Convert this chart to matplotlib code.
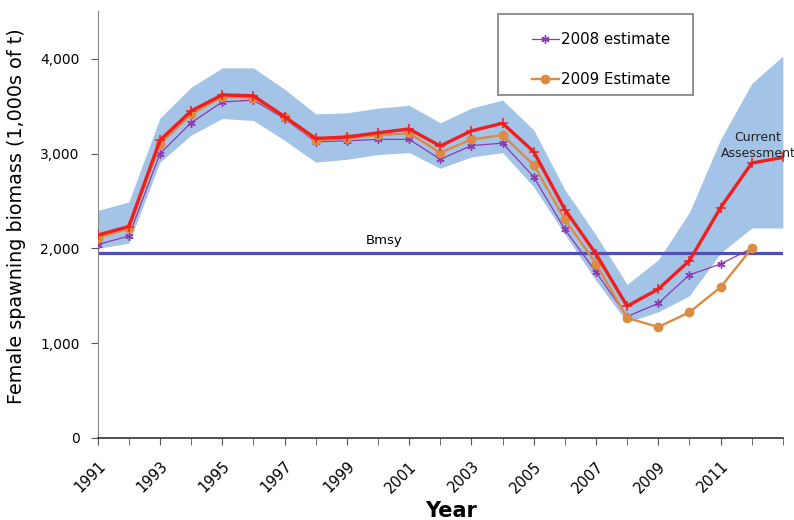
import matplotlib.pyplot as plt
from matplotlib.patches import Rectangle

# years on the x axis (2013 only carries the current assessment tail)
years = list(range(1991, 2014))
years_old = list(range(1991, 2013))

# current assessment (thick red) and its confidence band, 1000s of t
current = [2140, 2230, 3140, 3450, 3620, 3610, 3390, 3160, 3175, 3220, 3260, 3080, 3240, 3320,
           3020, 2410, 1940, 1390, 1570, 1870, 2430, 2900, 2960]
band_hi = [2400, 2490, 3375, 3700, 3905, 3905, 3680, 3420, 3430, 3480, 3510, 3325, 3480, 3565,
           3250, 2620, 2140, 1620, 1880, 2380, 3150, 3740, 4030]
band_lo = [2000, 2055, 2910, 3195, 3370, 3350, 3140, 2910, 2940, 2990, 3010, 2845, 2965, 3010,
           2650, 2150, 1660, 1220, 1330, 1500, 1950, 2215, 2215]

est_2008 = [2040, 2130, 3000, 3325, 3545, 3565, 3370, 3125, 3135, 3150, 3150, 2940, 3085, 3110,
            2755, 2200, 1750, 1280, 1420, 1720, 1835, 2000]
est_2009 = [2110, 2210, 3100, 3415, 3600, 3590, 3385, 3140, 3160, 3195, 3215, 3010, 3150, 3195,
            2880, 2305, 1840, 1265, 1170, 1325, 1590, 2000]

bmsy = 1955
label_years = list(range(1991, 2012, 2))

fig = plt.figure(figsize=(7.94, 5.20), dpi=100)
ax = fig.add_axes([0.123, 0.158, 0.863, 0.821])

ax.fill_between(years, band_lo, band_hi, color="#a3c4e6", linewidth=0, zorder=1)
ax.axhline(bmsy, color="#4f4fb4", linewidth=2.3, zorder=2)
ax.plot(years, current, color="#f01e1e", linewidth=2.4, marker="+", markersize=7,
        markeredgewidth=1.1, zorder=5)
ax.plot(years_old, est_2009, color="#dc8c42", linewidth=1.7, marker="o", markersize=6,
        label="2009 Estimate", zorder=4)
ax.plot(years_old, est_2008, color="#8b3ab0", linewidth=0.9, marker=(6, 2, 0), markersize=6,
        label="2008 estimate", zorder=3)

ax.text(2000.2, bmsy + 60, "Bmsy", ha="center", va="bottom", fontsize=9.5)
ax.text(2012.2, 2930, "Current\nAssessment", ha="center", va="bottom", fontsize=9,
        color="#222222", linespacing=1.3, clip_on=False, zorder=6)

ax.set_xlim(1991, 2013)
ax.set_ylim(0, 4506)
ax.set_yticks([0, 1000, 2000, 3000, 4000])
ax.set_yticklabels(["0", "1,000", "2,000", "3,000", "4,000"], fontsize=10)
ax.set_xticks(label_years)
ax.set_xticklabels([str(y) for y in label_years], rotation=45, ha="right",
                   rotation_mode="anchor", fontsize=10.5)
ax.set_xticks(years, minor=True)
ax.tick_params(axis="both", which="both", direction="out", length=5, color="#555555")
ax.tick_params(axis="y", pad=8)
ax.tick_params(axis="x", pad=10)

for side in ["top", "right"]:
    ax.spines[side].set_visible(False)
ax.spines["left"].set_color("#888888")
ax.spines["bottom"].set_color("#333333")
ax.spines["bottom"].set_linewidth(1.2)

ax.set_ylabel("Female spawning biomass (1,000s of t)", fontsize=13.8)
ax.yaxis.set_label_coords(-0.104, 0.52)
ax.set_xlabel("Year", fontsize=15, fontweight="bold")
ax.xaxis.set_label_coords(0.516, -0.148)

# legend frame drawn separately so the padding matches the original box
fig.patches.append(Rectangle((498 / 794, 1 - 95 / 520), 195 / 794, 81 / 520,
                             transform=fig.transFigure, facecolor="white",
                             edgecolor="#888888", linewidth=1.3, zorder=7))
handles, labels = ax.get_legend_handles_labels()
leg = fig.legend(handles[::-1], labels[::-1], loc="upper left",
                 bbox_to_anchor=(524 / 794, 1 - 25 / 520), fontsize=10.8, frameon=False,
                 labelspacing=1.65, borderpad=0, handlelength=1.8, handletextpad=0.15)
leg.set_zorder(8)

fig.savefig("out.png", dpi=100)
